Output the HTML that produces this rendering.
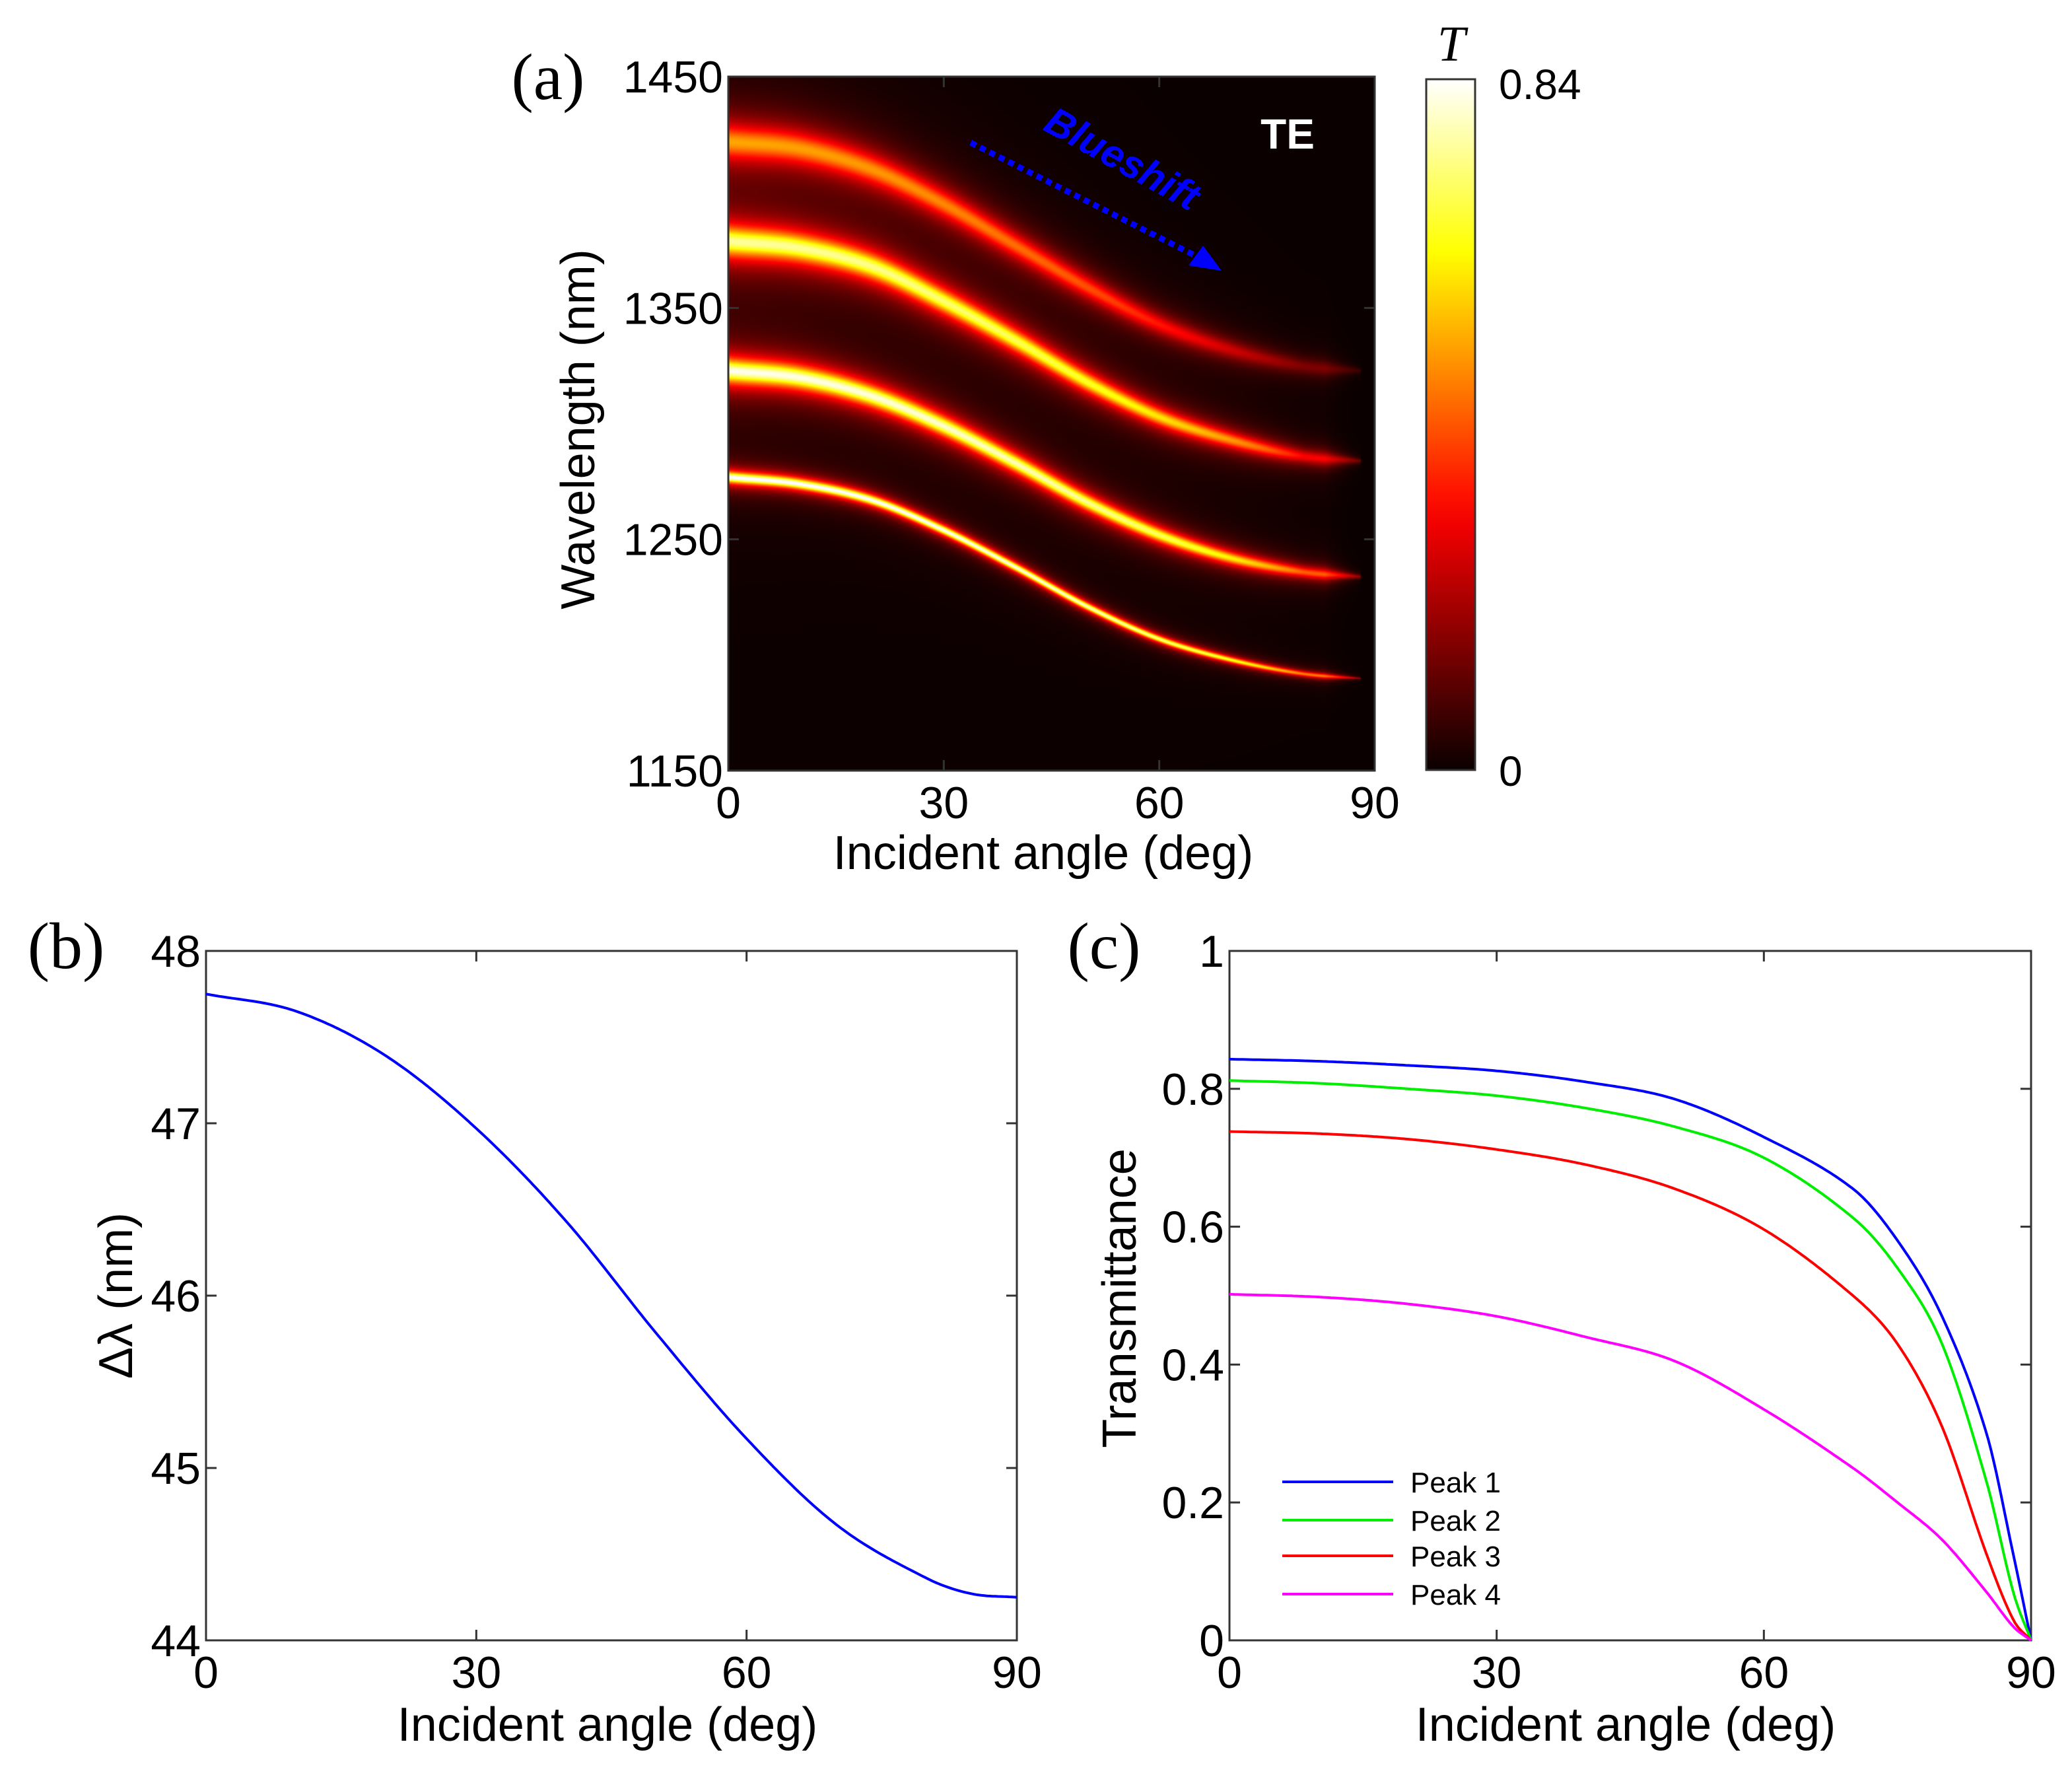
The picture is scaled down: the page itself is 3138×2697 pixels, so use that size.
<!DOCTYPE html>
<html><head><meta charset="utf-8"><style>
html,body{margin:0;padding:0;background:#fff;}
#root{position:relative;width:3138px;height:2697px;overflow:hidden;background:#fff;font-family:"Liberation Sans",sans-serif;}
svg{position:absolute;left:0;top:0;}
canvas{position:absolute;}
</style></head><body>
<div id="root">
<canvas id="heat"></canvas>
<svg id="svg" width="3138" height="2697"></svg>
</div>
<script>
// ---- Panel (a) data: band centre wavelengths (nm) vs angle ----
const bandAngles = [0,10,20,30,40,50,60,70,80,88];
const band1 = [1422,1419,1410,1395,1377,1359,1343,1332,1325,1323];
const band2 = [1379,1376,1368,1353,1336,1318,1303,1293,1286,1284];
const band3 = [1323,1320,1312,1299,1283,1266,1252,1242,1236,1234];
const band4 = [1277,1274,1267,1254,1238,1221,1207,1198,1192,1190];
const bandWidths = [7.5,6.5,5.2,2.4];
const yTicksA = [1150,1250,1350,1450];
const xTicks = [0,30,60,90];
// ---- Panel (b) data ----
const dAngles = [0,10,20,30,40,50,60,70,80,85,90];
const dLambda = [47.75,47.65,47.39,46.97,46.43,45.78,45.17,44.67,44.36,44.27,44.25];
const yTicksB = [44,45,46,47,48];
// ---- Panel (c) data ----
const tAngles = [0,10,20,30,40,50,60,70,75,80,85,88,90];
const peak1 = [.843,.840,.834,.826,.810,.785,.73,.655,.58,.47,.30,.125,0];
const peak2 = [.812,.808,.800,.790,.772,.745,.70,.613,.54,.43,.23,.07,0];
const peak3 = [.738,.735,.727,.712,.69,.655,.596,.50,.43,.31,.125,.03,0];
const peak4 = [.502,.498,.488,.47,.44,.405,.335,.25,.20,.146,.07,.02,0];
const yTicksC = [0,0.2,0.4,0.6,0.8,1];

const NS="http://www.w3.org/2000/svg";
const svg=document.getElementById('svg');
function el(tag,attrs,parent,text){const e=document.createElementNS(NS,tag);for(const k in attrs)e.setAttribute(k,attrs[k]);if(text!==undefined)e.textContent=text;(parent||svg).appendChild(e);return e;}
function interp(xs,ys,x){
  const n=xs.length;if(x<=xs[0])return ys[0];if(x>=xs[n-1])return ys[n-1];
  let i=1;while(x>xs[i])i++;
  const x0=xs[i-1],x1=xs[i],y0=ys[i-1],y1=ys[i];const h=x1-x0;const t=(x-x0)/h;
  const m0=i>1?(y1-ys[i-2])/(x1-xs[i-2])*h:(y1-y0);
  const m1=i<n-1?(ys[i+1]-y0)/(xs[i+1]-x0)*h:(y1-y0);
  const t2=t*t,t3=t2*t;
  return (2*t3-3*t2+1)*y0+(t3-2*t2+t)*m0+(-2*t3+3*t2)*y1+(t3-t2)*m1;
}
function smoothPath(xs,ys,sx,sy){let d='';const a=xs[0],b=xs[xs.length-1];for(let k=0;k<=300;k++){const x=a+(b-a)*k/300;d+=(k?'L':'M')+sx(x).toFixed(1)+','+sy(interp(xs,ys,x)).toFixed(1);}return d;}

function axesBox(L,T,R,B,xv,xScale,yv,yScale,yfmt,name){
  const g=el('g',{});
  
  
  el('rect',{x:L,y:T,width:R-L,height:B-T,fill:'none',stroke:'#333','stroke-width':3},g);
  xv.forEach(v=>{const x=xScale(v);
    el('line',{x1:x,y1:B,x2:x,y2:B-16,stroke:'#333','stroke-width':3},g);
    el('line',{x1:x,y1:T,x2:x,y2:T+16,stroke:'#333','stroke-width':3},g);
    const t=el('text',{x:x,y:B+72,'font-size':68,'text-anchor':'middle',fill:'#000'},g,String(v));
    
    
  });
  yv.forEach(v=>{const y=yScale(v);
    el('line',{x1:L,y1:y,x2:L+16,y2:y,stroke:'#333','stroke-width':3},g);
    el('line',{x1:R,y1:y,x2:R-16,y2:y,stroke:'#333','stroke-width':3},g);
    const t=el('text',{x:L-8,y:y+24,'font-size':68,'text-anchor':'end',fill:'#000'},g,yfmt(v));
    
    
  });
  return g;
}
function label(x,y,txt,size,name,extra){const t=el('text',Object.assign({x:x,y:y,'font-size':size,'text-anchor':'middle',fill:'#000'},extra||{}),svg,txt);
  
  return t;}

// ===== Panel (a) =====
const aL=1103,aT=116,aR=2082,aB=1167;
const axA=v=>aL+(v/90)*(aR-aL);
const ayA=v=>aB-(v-1150)/300*(aB-aT);
function hot(v){v=Math.max(0,Math.min(1,v));const r=Math.min(1,0.04+v/0.375*0.96),g=Math.max(0,Math.min(1,(v-0.375)/0.375)),b=Math.max(0,Math.min(1,(v-0.75)/0.25));return [r*255,g*255,b*255];}
(function(){
  const c=document.getElementById('heat');const W=aR-aL,H=aB-aT;
  c.width=W;c.height=H;c.style.left=aL+'px';c.style.top=aT+'px';
  const ctx=c.getContext('2d');const img=ctx.createImageData(W,H);
  const bands=[band1,band2,band3,band4];const peaks=[peak4,peak3,peak2,peak1];
  for(let x=0;x<W;x++){
    const ang=x/W*90;
    const cs=bands.map(b=>interp(bandAngles,b,ang));
    const fade=ang<83?1:Math.max(0,(88-ang)/5);
    const ps=peaks.map(p=>interp(tAngles,p,Math.min(ang,80))*(0.4+0.6*fade));
    const ws=bandWidths.map(w=>w*(1-0.6*ang/90)*(0.3+0.7*fade));
    const on=ang<=88;
    for(let y=0;y<H;y++){
      const lam=1450-y/H*300;let T=0;
      if(on){for(let k=0;k<4;k++){const d=(lam-cs[k])/ws[k];T+=ps[k]/(1+d*d);}}
      const col=hot(T/0.84);const i=(y*W+x)*4;
      img.data[i]=col[0];img.data[i+1]=col[1];img.data[i+2]=col[2];img.data[i+3]=255;
    }
  }
  ctx.putImageData(img,0,0);
})();
axesBox(aL,aT,aR,aB,xTicks,axA,yTicksA,ayA,v=>String(v),'panel-a');
label(790*2,1316,'Incident angle (deg)',72,'panel-a-x-title');
label(0,0,'Wavelength (nm)',72,'panel-a-y-title',{transform:'translate(900,650) rotate(-90)'});
label(830,150,'(a)',100,'panel-a-label',{'font-family':'Liberation Serif, serif'});
label(1950,225,'TE',64,'te-label',{fill:'#fff','font-weight':'bold'});
label(0,0,'Blueshift',60,'blueshift-label',{fill:'#0000ff','font-weight':'bold','font-style':'italic',transform:'translate(1690,258) rotate(29)'});
(function(){const a=el('line',{x1:1470,y1:216,x2:1820,y2:392,stroke:'#0000ff','stroke-width':9,'stroke-dasharray':'9 7'});

const h=el('polygon',{points:'1850,410 1800,402 1822,372',fill:'#0000ff'});})();
(function(){const defs=el('defs',{});const lg=el('linearGradient',{id:'cb',x1:0,y1:1,x2:0,y2:0},defs);
for(let i=0;i<=20;i++){const c=hot(i/20);el('stop',{offset:i/20,'stop-color':`rgb(${c.map(Math.round).join(',')})`},lg);}
const r=el('rect',{x:2160,y:120,width:74,height:1046,fill:'url(#cb)',stroke:'#333','stroke-width':3});
})();
label(2270,150,'0.84',64,'colorbar-max-label',{'text-anchor':'start'});
label(2270,1190,'0',64,'colorbar-min-label',{'text-anchor':'start'});
label(2198,92,'T',76,'colorbar-title',{'font-family':'Liberation Serif, serif','font-style':'italic'});

// ===== Panel (b) =====
const bL=312,bT=1440,bR=1540,bB=2484;
const axB=v=>bL+(v/90)*(bR-bL);
const ayB=v=>bB-(v-44)/4*(bB-bT);
axesBox(bL,bT,bR,bB,xTicks,axB,yTicksB,ayB,v=>String(v),'panel-b');
(function(){const p=el('path',{d:smoothPath(dAngles,dLambda,axB,ayB),fill:'none',stroke:'#0000ff','stroke-width':4,'stroke-linejoin':'round'});
})();
label(920,2636,'Incident angle (deg)',72,'panel-b-x-title');
label(0,0,'Δλ (nm)',72,'panel-b-y-title',{transform:'translate(200,1962) rotate(-90)'});
label(100,1466,'(b)',100,'panel-b-label',{'font-family':'Liberation Serif, serif'});

// ===== Panel (c) =====
const cL=1862,cT=1440,cR=3076,cB=2484;
const axC=v=>cL+(v/90)*(cR-cL);
const ayC=v=>cB-v*(cB-cT);
axesBox(cL,cT,cR,cB,xTicks,axC,yTicksC,ayC,v=>String(v),'panel-c');
const series=[[peak1,'#0000ff','Peak 1'],[peak2,'#00ee00','Peak 2'],[peak3,'#ff0000','Peak 3'],[peak4,'#ff00ff','Peak 4']];
series.forEach((s,k)=>{
  const p=el('path',{d:smoothPath(tAngles,s[0],axC,ayC),fill:'none',stroke:s[1],'stroke-width':4,'stroke-linejoin':'round'});
  
  
  const y=[2244,2302,2356,2414][k];
  const l=el('line',{x1:1942,y1:y,x2:2110,y2:y,stroke:s[1],'stroke-width':4});
  
  
  const t=el('text',{x:2136,y:y+16,'font-size':44,fill:'#000'},svg,s[2]);
  
  
});
label(2462,2636,'Incident angle (deg)',72,'panel-c-x-title');
label(0,0,'Transmittance',72,'panel-c-y-title',{transform:'translate(1720,1966) rotate(-90)'});
label(1672,1466,'(c)',100,'panel-c-label',{'font-family':'Liberation Serif, serif'});
</script>
</body></html>
